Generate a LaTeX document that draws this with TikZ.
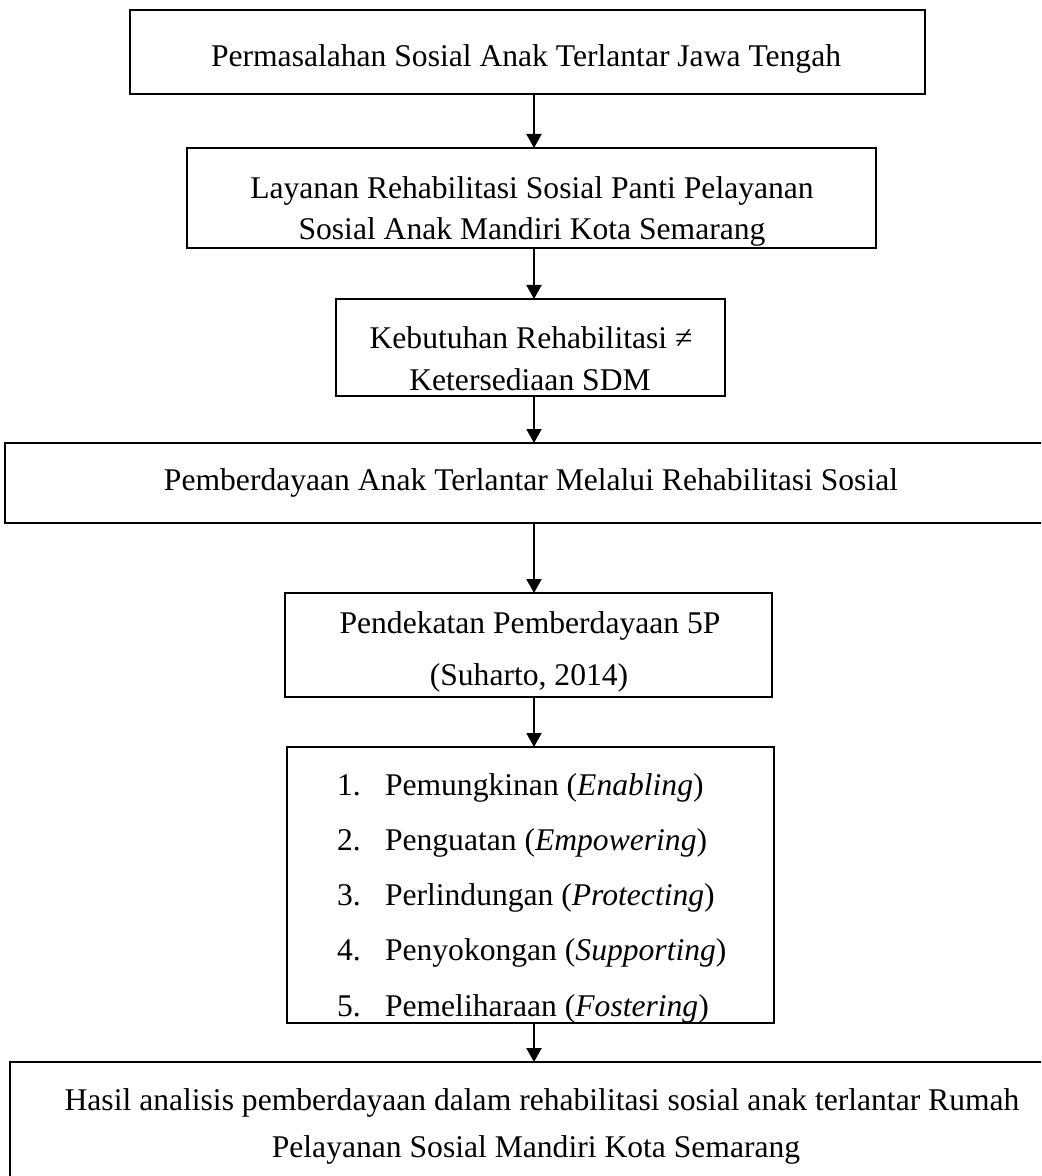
\documentclass[tikz,border=0pt]{standalone}
\usepackage{fontspec}
\setmainfont{Liberation Serif}
\usetikzlibrary{arrows.meta}
\begin{document}
\begin{tikzpicture}[x=0.5pt,y=-0.5pt,
  box/.style={draw,line width=1.1pt,inner sep=0,outer sep=0},
  txt/.style={inner sep=0,outer sep=0,font=\fontsize{15.8pt}{19pt}\selectfont,anchor=base},
  lst/.style={txt,anchor=base west},
  arr/.style={line width=1pt,-{Triangle[length=7pt,width=7.5pt]}}]
\useasboundingbox (0,0) rectangle (1041,1176);
\clip (0,0) rectangle (1041,1176);
\fill[white] (0,0) rectangle (1041,1176);
% boxes
\node[box,minimum width=397.5pt,minimum height=42pt] (b1) at (527.5,52) {};
\node[box,minimum width=344.5pt,minimum height=50pt] (b2) at (531.5,198) {};
\node[box,minimum width=194.5pt,minimum height=48.5pt] (b3) at (530.5,347.5) {};
\node[box,minimum width=526pt,minimum height=40pt] (b4) at (531,483) {};
\node[box,minimum width=243.5pt,minimum height=52pt] (b5) at (528.5,645) {};
\node[box,minimum width=243.5pt,minimum height=138pt] (b6) at (530.5,885) {};
\node[box,minimum width=530pt,minimum height=69pt] (b7) at (540,1131) {};
% texts
\node[txt] (t1) at (526,67) {Permasalahan Sosial Anak Terlantar Jawa Tengah};
\node[txt] (t2a) at (532,199) {Layanan Rehabilitasi Sosial Panti Pelayanan};
\node[txt] (t2b) at (532,240) {Sosial Anak Mandiri Kota Semarang};
\node[txt] (t3a) at (531,348) {Kebutuhan Rehabilitasi ≠};
\node[txt] (t3b) at (530,390) {Ketersediaan SDM};
\node[txt] (t4) at (531,490) {Pemberdayaan Anak Terlantar Melalui Rehabilitasi Sosial};
\node[txt] (t5a) at (530,633) {Pendekatan Pemberdayaan 5P};
\node[txt] (t5b) at (529,685) {(Suharto, 2014)};
\node[lst] (n1) at (337,795) {1.};
\node[lst] (l1) at (385,795) {Pemungkinan (\textit{Enabling})};
\node[lst] (n2) at (337,850) {2.};
\node[lst] (l2) at (385,850) {Penguatan (\textit{Empowering})};
\node[lst] (n3) at (337,905) {3.};
\node[lst] (l3) at (385,905) {Perlindungan (\textit{Protecting})};
\node[lst] (n4) at (337,960) {4.};
\node[lst] (l4) at (385,960) {Penyokongan (\textit{Supporting})};
\node[lst] (n5) at (337,1016) {5.};
\node[lst] (l5) at (385,1016) {Pemeliharaan (\textit{Fostering})};
\node[txt] (t7a) at (542,1110) {Hasil analisis pemberdayaan dalam rehabilitasi sosial anak terlantar Rumah};
\node[txt] (t7b) at (536,1157) {Pelayanan Sosial Mandiri Kota Semarang};
% arrows
\coordinate (ax) at (534,0);
\draw[arr] (b1.south -| ax) -- (b2.north -| ax);
\draw[arr] (b2.south -| ax) -- (b3.north -| ax);
\draw[arr] (b3.south -| ax) -- (b4.north -| ax);
\draw[arr] (b4.south -| ax) -- (b5.north -| ax);
\draw[arr] (b5.south -| ax) -- (b6.north -| ax);
\draw[arr] (b6.south -| ax) -- (b7.north -| ax);
\end{tikzpicture}
\end{document}
